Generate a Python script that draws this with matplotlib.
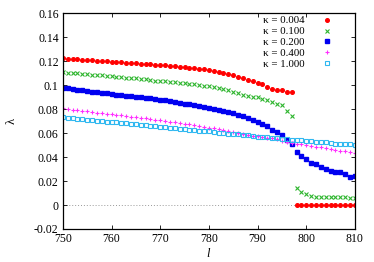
import numpy as np
import matplotlib
matplotlib.use("Agg")
import matplotlib.pyplot as plt

plt.rcParams['font.family'] = ['Liberation Serif', 'DejaVu Serif']
plt.rcParams['mathtext.fontset'] = 'custom'
plt.rcParams['mathtext.it'] = 'Liberation Serif:italic'

# l values
l_all = list(range(750, 811))
l_low = list(range(750, 798))
l_high = list(range(798, 811))

# kappa = 0.004
red_low = [.1222, .1220, .1217, .1214, .1211, .1208, .1206, .1203, .1200, .1198,
           .1195, .1192, .1189, .1187, .1184, .1181, .1178, .1176, .1173, .1170,
           .1167, .1164, .1160, .1157, .1154, .1150, .1146, .1142, .1137, .1132,
           .1126, .1119, .1111, .1102, .1092, .1081, .1070, .1058, .1045, .1030,
           .1019, .1006, .0985, .0970, .0960, .0956, .0945, .0939]
red_high = [0.0]*13

# kappa = 0.100
green_low = [.1106, .1103, .1100, .1102, .1094, .1092, .1088, .1085, .1081, .1077,
             .1074, .1071, .1067, .1063, .1060, .1056, .1052, .1048, .1044, .1038,
             .1033, .1030, .1026, .1022, .1018, .1014, .1010, .1005, .1000, .0994,
             .0990, .0983, .0975, .0965, .0955, .0945, .0932, .0920, .0908, .0898,
             .0897, .0883, .0875, .0856, .0839, .0831, .0783, .0742]
green_high = [.0144, .0111, .0092, .0078, .0069, .0070, .0068, .0068, .0065, .0065,
              .0063, .0060, .0062]

# kappa = 0.200
blue = [.0978, .0973, .0968, .0963, .0957, .0952, .0946, .0941, .0936, .0931,
        .0926, .0921, .0916, .0911, .0906, .0901, .0897, .0892, .0888, .0883,
        .0878, .0872, .0865, .0858, .0851, .0845, .0838, .0831, .0823, .0815,
        .0808, .0800, .0793, .0786, .0778, .0766, .0754, .0742, .0728, .0708,
        .0694, .0675, .0658, .0625, .0611, .0581, .0542, .0506, .0444, .0408,
        .0381, .0347, .0339, .0319, .0297, .0286, .0278, .0272, .0255, .0236,
        .0242]

# kappa = 0.400
magenta = [.0806, .0800, .0796, .0791, .0786, .0781, .0776, .0771, .0766, .0761,
           .0757, .0752, .0747, .0742, .0737, .0732, .0727, .0722, .0717, .0712,
           .0708, .0702, .0696, .0690, .0684, .0678, .0672, .0666, .0660, .0653,
           .0646, .0638, .0631, .0623, .0616, .0608, .0601, .0594, .0586, .0578,
           .0575, .0564, .0556, .0556, .0547, .0531, .0522, .0514, .0506, .0506,
           .0500, .0494, .0486, .0481, .0472, .0467, .0461, .0453, .0453, .0444,
           .0431]

# kappa = 1.000
cyan = [.0731, .0727, .0723, .0719, .0715, .0711, .0708, .0704, .0700, .0696,
        .0692, .0688, .0684, .0680, .0676, .0672, .0669, .0665, .0661, .0657,
        .0653, .0649, .0645, .0641, .0637, .0633, .0629, .0625, .0621, .0617,
        .0613, .0609, .0604, .0600, .0596, .0592, .0588, .0584, .0580, .0575,
        .0569, .0564, .0564, .0556, .0556, .0547, .0547, .0542, .0542, .0542,
        .0536, .0533, .0528, .0522, .0522, .0519, .0511, .0506, .0506, .0506,
        .0503]

fig = plt.figure(figsize=(3.74, 2.62), dpi=100)
ax = fig.add_axes([0.168, 0.126, 0.781, 0.824])

ax.axhline(0, color='#999999', lw=0.7, ls=(0, (1, 2)), zorder=1)

fs = 8.5
ax.plot(l_low + l_high, red_low + red_high, 'o', color='#ff0000', ms=2.6,
        mec='#ff0000', ls='none', label='κ = 0.004')
ax.plot(l_low + l_high, green_low + green_high, 'x', color='#2cb42c', ms=3.0,
        mew=0.8, ls='none', label='κ = 0.100')
ax.plot(l_all, blue, 's', color='#0000f0', ms=2.6, ls='none', label='κ = 0.200')
ax.plot(l_all, magenta, '+', color='#ff30ff', ms=3.2, mew=0.8, ls='none',
        label='κ = 0.400')
ax.plot(l_all, cyan, 's', mfc='none', mec='#30b8f0', ms=2.8, mew=0.8,
        ls='none', label='κ = 1.000')

ax.set_xlim(750, 810)
ax.set_ylim(-0.02, 0.16)
ax.set_xticks([750, 760, 770, 780, 790, 800, 810])
yt = [-0.02, 0, 0.02, 0.04, 0.06, 0.08, 0.1, 0.12, 0.14, 0.16]
ax.set_yticks(yt)
ax.set_yticklabels(['-0.02', '0', '0.02', '0.04', '0.06', '0.08', '0.1',
                    '0.12', '0.14', '0.16'])
ax.tick_params(direction='in', top=True, right=True, length=3, width=0.6,
               labelsize=fs, pad=3)
for s in ax.spines.values():
    s.set_linewidth(0.9)

ax.set_xlabel('$l$', fontsize=fs + 0.5, labelpad=1)
ax.set_ylabel('λ', fontsize=fs + 0.5, rotation=90, labelpad=12)

leg = ax.legend(loc='upper right', bbox_to_anchor=(0.930, 0.997), fontsize=7.8,
                frameon=False, markerfirst=False, handlelength=1.0,
                handletextpad=1.54, labelspacing=0.12, borderpad=0.2,
                borderaxespad=0)
for t in leg.get_texts():
    t.set_ha('right')

fig.savefig('out.png', dpi=100)
